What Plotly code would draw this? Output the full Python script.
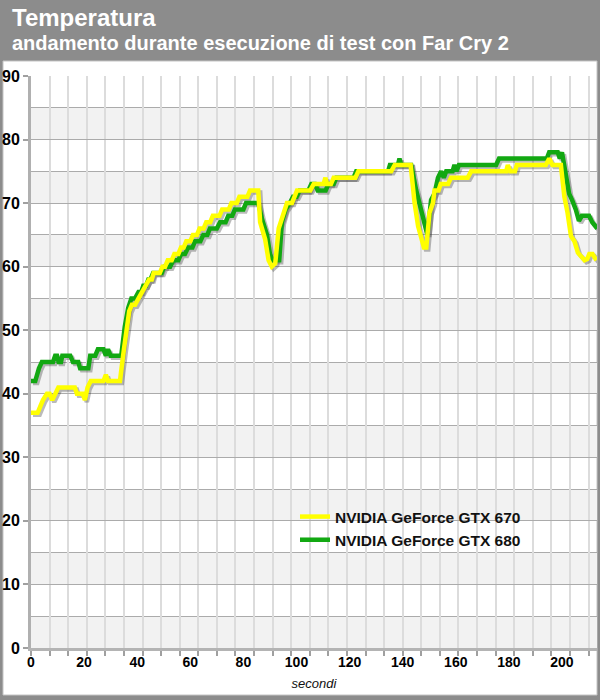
import plotly.graph_objects as go

# ---- data ----
t670 = [0, 2.5, 3.5, 4.5, 6, 7, 8, 9, 10.3, 16.5, 17.3, 19.5, 20.3, 21.3, 22.5, 27.3, 28.2, 29, 33.5,
        35, 36, 37, 38, 39.2, 40.5, 41.7, 43, 44.5, 45.5, 46.2, 48.5, 49.5, 50.5, 51.5, 53, 54, 55.5,
        56.5, 57.5, 58.5, 60, 61, 62.5, 63.5, 65, 66, 67.5, 68.5, 71, 72, 74.5, 75.5, 77.5, 78.5, 81.5,
        82.5, 85.6, 86.3, 88.2, 89.5, 90.7, 92, 93.3, 95.1, 96.4, 98.3, 99.3, 100.2, 105.2, 106.5, 110.2,
        110.9, 111.5, 113, 114, 122.2, 123.3, 135.7, 137, 143, 144.5, 145.8, 148, 148.9, 150.1, 151.4,
        152, 153.5, 154.3, 157.1, 158.2, 164.5, 165.8, 179, 179.6, 180.5, 182.3, 183, 193.9, 195.2,
        196.4, 199.6, 200.9, 202.1, 203.4, 204.7, 206, 207.2, 208.5, 209.5, 210.3, 211.5, 213]
temp670 = [37, 37, 38, 39, 40, 40, 39, 40, 41, 41, 40, 40, 39, 41, 42, 42, 43, 42, 42,
           47, 50, 53, 54, 54, 55, 56, 57, 58, 58, 59, 59, 60, 60, 61, 61, 62, 62,
           63, 63, 64, 64, 65, 65, 66, 66, 67, 67, 68, 68, 69, 69, 70, 70, 71, 71,
           72, 72, 67, 64.3, 61, 60, 60.5, 66, 68.5, 70, 70, 71, 72, 72, 73, 73,
           74, 73, 73, 74, 74, 75, 75, 76, 76, 70, 66.4, 63, 63, 68.5, 70,
           72, 72, 73, 73, 74, 74, 75, 75, 76, 75, 75, 76, 76, 77,
           76, 76, 71, 68.5, 64.8, 64, 62.2, 61.5, 61, 61.2, 62, 62, 61]

t680 = [0, 1.6, 3, 4.1, 8.3, 9.1, 9.8, 10.4, 11.3, 11.8, 14.8, 15.8, 17.8, 18.5, 21.6, 22.3, 24.2,
        25.2, 27.3, 28.2, 29, 30, 34, 35.3, 36.6, 37.8, 39.2, 40.5, 41.5, 42.3, 43.3, 44.2, 45, 46,
        49.2, 50.2, 52.4, 53.6, 55.5, 56.5, 58, 59.2, 60.8, 61.8, 63.8, 64.9, 66.4, 67.4, 70, 71.2,
        73.3, 74.3, 75.8, 76.8, 80, 81, 85.6, 87, 88.9, 90, 91, 93.5, 94.5, 95.9, 97.5, 98.7, 100,
        101.2, 104.5, 105.6, 107, 108, 111, 112, 114, 115, 121.5, 122.5, 134.5, 135.2, 138.2, 138.8,
        139.5, 143.2, 145.1, 147, 149.3, 150.7, 152, 153.3, 154.5, 155.5, 156.4, 158.8, 159.5, 160.3,
        161.2, 175.2, 176.3, 194.3, 195.2, 198.4, 199.2, 200, 201.4, 202.7, 203.9, 205.2, 206.4,
        207.5, 210.2, 211.4, 213.3]
temp680 = [42, 42, 44, 45, 45, 46, 46, 45, 45, 46, 46, 45, 45, 44, 44, 46, 46,
           47, 47, 46, 47, 46, 46, 50.5, 53.5, 55, 55, 56, 56, 57, 57, 58, 58, 59,
           59, 60, 60, 61, 61, 62, 62, 63, 63, 64, 64, 65, 65, 66, 66, 67,
           67, 68, 68, 69, 69, 70, 70, 67.5, 65, 62, 61, 61, 67, 69, 70, 71, 71,
           72, 72, 73, 73, 72, 72, 73, 73, 74, 74, 75, 75, 76, 76, 77,
           76, 76, 72, 68.5, 65, 70.5, 71.5, 74, 75, 74, 75, 75, 76, 75,
           76, 76, 77, 77, 78, 78, 77, 78, 75, 71.5, 70.4, 69, 67.2,
           68, 68, 67, 66]

series_names = ["NVIDIA GeForce GTX 670", "NVIDIA GeForce GTX 680"]
x_label_vals = [0, 20, 40, 60, 80, 100, 120, 140, 160, 180, 200]
x_grid_vals = list(range(0, 211, 7))
y_tick_vals = list(range(0, 91, 10))

# ---- geometry / styles ----
W, H = 600, 700
ML, MR, MT, MB = 31, 3, 76, 52
PW, PH = W - ML - MR, H - MT - MB
XMAX, YMAX = 213.2, 90
FONT = "Liberation Sans, Arial, sans-serif"
YELLOW, GREEN = "#ffff00", "#12a812"
SHADOW = "rgba(50,50,50,0.33)"
dx = 2.0 * XMAX / PW   # 2px shadow offset
dy = 2.0 * YMAX / PH

def px_x(p):
    return (p - ML) / PW

def px_y(p):
    return (H - MB - p) / PH

fig = go.Figure()

# shadows (on shifted overlay axes)
for tx, ty in ((t680, temp680), (t670, temp670)):
    fig.add_trace(go.Scatter(x=tx, y=ty, mode="lines", xaxis="x2", yaxis="y2",
                             line=dict(color=SHADOW, width=4.5), showlegend=False,
                             hoverinfo="skip"))
# main lines
fig.add_trace(go.Scatter(x=t680, y=temp680, mode="lines", name="<b>%s</b>" % series_names[1],
                         xaxis="x3", yaxis="y3", line=dict(color=GREEN, width=4.5), legendrank=2))
fig.add_trace(go.Scatter(x=t670, y=temp670, mode="lines", name="<b>%s</b>" % series_names[0],
                         xaxis="x3", yaxis="y3", line=dict(color=YELLOW, width=4.5), legendrank=1))

shapes = [dict(type="rect", xref="paper", yref="paper", x0=px_x(3), x1=px_x(597),
               y0=px_y(695), y1=px_y(61), fillcolor="white", line=dict(color="#c4c4c4", width=1),
               layer="below")]
for k in range(0, 90, 10):
    shapes.append(dict(type="rect", xref="paper", yref="y", x0=0, x1=1, y0=k, y1=k + 5,
                       fillcolor="#f2f2f2", line=dict(width=0), layer="below"))

fig.update_layout(
    width=W, height=H, margin=dict(l=ML, r=MR, t=MT, b=MB),
    paper_bgcolor="#8c8c8c", plot_bgcolor="white",
    font=dict(family=FONT, color="black"),
    shapes=shapes,
    showlegend=True,
    legend=dict(x=px_x(295), y=px_y(500), xanchor="left", yanchor="top",
                bgcolor="rgba(0,0,0,0)", font=dict(size=15.5, color="#111"),
                itemwidth=30, tracegroupgap=0),
    xaxis=dict(range=[0, XMAX], tickmode="array", tickvals=x_grid_vals, showticklabels=False,
               showgrid=True, gridcolor="#dcdcdc", gridwidth=1.5, zeroline=False,
               showline=True, linecolor="#b4b4b4", linewidth=2.5,
               ticks="outside", ticklen=5, tickcolor="#a0a0a0", tickwidth=1.5, fixedrange=True),
    yaxis=dict(range=[0, YMAX], tickmode="array", tickvals=y_tick_vals,
               ticktext=["<b>%d</b>" % v for v in y_tick_vals],
               showgrid=True, gridcolor="#ababab", gridwidth=1, zeroline=False,
               showline=True, linecolor="#b0b0b0", linewidth=3,
               ticks="outside", ticklen=5, tickcolor="#a0a0a0", tickwidth=1.5,
               tickfont=dict(size=16, color="black"),
               minor=dict(tickmode="linear", tick0=5, dtick=10, showgrid=True,
                          gridcolor="#ababab", gridwidth=1, ticks=""),
               fixedrange=True),
    xaxis2=dict(overlaying="x", anchor="y2", range=[-dx, XMAX - dx], visible=False),
    yaxis2=dict(overlaying="y", anchor="x2", range=[dy, YMAX + dy], visible=False),
    xaxis3=dict(overlaying="x", anchor="y3", side="bottom", range=[0, XMAX], tickmode="array",
                tickvals=x_label_vals, ticktext=["<b>%d</b>" % v for v in x_label_vals],
                showgrid=False, zeroline=False, ticks="", ticklabelstandoff=4,
                tickfont=dict(size=14, color="black"),
                title=dict(text="<i>secondi</i>", font=dict(size=13, color="#111"),
                           standoff=9)),
    yaxis3=dict(overlaying="y", anchor="x3", range=[0, YMAX], visible=False),
    annotations=[
        dict(text="<b>Temperatura</b>", xref="paper", yref="paper", x=px_x(10), y=px_y(18),
             xanchor="left", yanchor="middle", showarrow=False,
             font=dict(size=24, color="white")),
        dict(text="<b>andamento durante esecuzione di test con Far Cry 2</b>", xref="paper", yref="paper",
             x=px_x(10), y=px_y(43), xanchor="left", yanchor="middle", showarrow=False,
             font=dict(size=20, color="white")),
    ],
)

fig.write_html("out.html", config={"displayModeBar": False},
               post_script="document.body.style.margin='0';")
